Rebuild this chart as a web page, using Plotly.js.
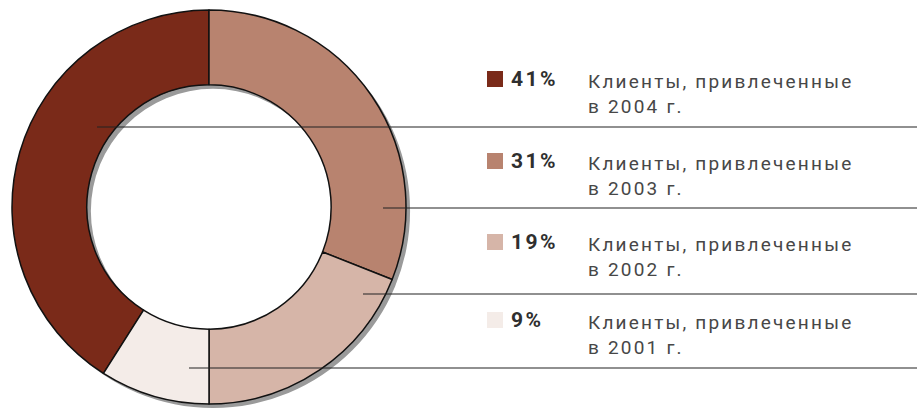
<!DOCTYPE html>
<html>
<head>
<meta charset="utf-8">
<script src="https://cdn.plot.ly/plotly-3.0.1.min.js"></script>
<style>html,body{margin:0;padding:0;background:#fff}#chart{width:923px;height:408px}</style>
</head>
<body>
<div id="chart"></div>
<script>
// Data (legend order, top to bottom)
const percents = [41, 31, 19, 9];
const percentLabels = ['41%', '31%', '19%', '9%'];
const labelLine1 = ['Клиенты, привлеченные', 'Клиенты, привлеченные', 'Клиенты, привлеченные', 'Клиенты, привлеченные'];
const labelLine2 = ['в 2004 г.', 'в 2003 г.', 'в 2002 г.', 'в 2001 г.'];
const colors = ['#7a2a19', '#b8836f', '#d6b5a8', '#f4ece8'];

const W = 923, H = 408;
const px = x => x / W;
const py = y => 1 - y / H;

// pie geometry
const pieL = 12, pieT = 10, pieSize = 394, shadowOff = 4;
const hole = 0.62;
// first slice (41%) ends at 12 o'clock, clockwise
const rotation = 360 * (1 - percents[0] / 100);

const shadow = {
  type: 'pie', values: [1], labels: ['s'], hole: hole, sort: false,
  marker: {colors: ['#9a9a9a'], line: {width: 0}},
  textinfo: 'none', hoverinfo: 'skip', showlegend: false,
  domain: {x: [px(pieL + shadowOff), px(pieL + shadowOff + pieSize)], y: [py(pieT + shadowOff + pieSize), py(pieT + shadowOff)]}
};
const main = {
  type: 'pie', values: percents, labels: labelLine2, hole: hole, sort: false,
  direction: 'clockwise', rotation: rotation,
  marker: {colors: colors, line: {color: '#111', width: 1.5}},
  textinfo: 'none', hoverinfo: 'label+percent', showlegend: false,
  domain: {x: [px(pieL), px(pieL + pieSize)], y: [py(pieT + pieSize), py(pieT)]}
};

// Legend layout
const rowY = [79, 161, 242, 320];
const lineY = [127, 208, 294, 368];
const lineX0 = [97, 383, 363, 189];

const shapes = [], annotations = [];
for (let i = 0; i < percents.length; i++) {
  shapes.push({type: 'rect', xref: 'paper', yref: 'paper', x0: px(487), x1: px(503), y0: py(rowY[i] + 8), y1: py(rowY[i] - 8), fillcolor: colors[i], line: {width: 0}});
  shapes.push({type: 'line', xref: 'paper', yref: 'paper', x0: px(lineX0[i]), x1: px(917), y0: py(lineY[i]), y1: py(lineY[i]), line: {color: '#222', width: 1.2}});
  annotations.push({xref: 'paper', yref: 'paper', x: px(509), y: py(rowY[i]), xanchor: 'left', yanchor: 'middle', showarrow: false, align: 'left',
    text: '<b>' + percentLabels[i] + '</b>', font: {family: 'Roboto, Arial, sans-serif', size: 21, color: '#2f2f2f'}});
  annotations.push({xref: 'paper', yref: 'paper', x: px(586), y: py(rowY[i] - 11), xanchor: 'left', yanchor: 'top', showarrow: false, align: 'left',
    text: labelLine1[i] + '<br>' + labelLine2[i], font: {family: 'Roboto, Arial, sans-serif', size: 19, color: '#474747'}});
}

Plotly.newPlot('chart', [shadow, main], {
  width: W, height: H, margin: {l: 0, r: 0, t: 0, b: 0},
  paper_bgcolor: '#fff', plot_bgcolor: '#fff',
  shapes: shapes, annotations: annotations
}, {staticPlot: true}).then(() => {
  document.querySelectorAll('.annotation').forEach(g => {
    const i = +g.getAttribute('data-index');
    const t = g.querySelector('text');
    if (t) t.style.letterSpacing = (i % 2) ? '2.2px' : '2.5px';
  });
});
</script>
</body>
</html>
